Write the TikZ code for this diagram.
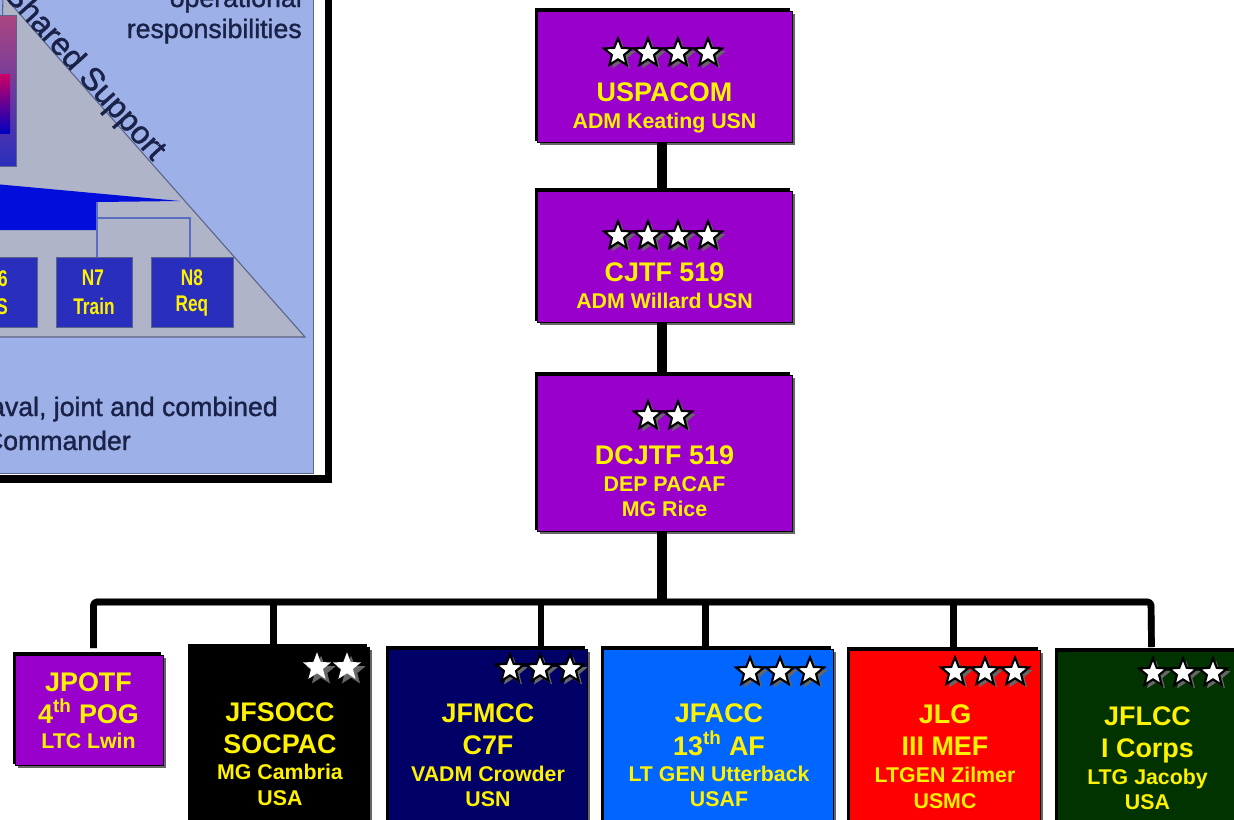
\documentclass[tikz,border=0pt]{standalone}
\usepackage{fontspec}
\setmainfont{Liberation Sans}
\newfontfamily\blurfont[FakeBold=1.3]{Liberation Sans}
\usetikzlibrary{shapes.geometric,fit,calc}
\definecolor{cmdpurple}{HTML}{9900CC}
\definecolor{cmdnavy}{HTML}{000066}
\definecolor{cmdblue}{HTML}{0066FF}
\definecolor{cmdgreen}{HTML}{003300}
\definecolor{panelblue}{HTML}{9DB0E8}
\definecolor{trigray}{HTML}{B0B4C8}
\definecolor{triline}{HTML}{5A6488}
\definecolor{paneltext}{HTML}{1A2248}
\definecolor{nbox}{HTML}{2A2EBC}
\definecolor{linkblue}{HTML}{5A6CC0}
\tikzset{
  boxnode/.style={inner sep=0pt,outer sep=0pt,draw=black,line width=0.5pt},
  titletext/.style={anchor=base,inner sep=0pt,text=yellow,font=\fontsize{20.2}{24}\selectfont\bfseries},
  subtext/.style={anchor=base,inner sep=0pt,text=yellow,font=\fontsize{16}{19}\selectfont\bfseries},
  starw/.style={star,star points=5,star point ratio=2.3,minimum size=22pt,inner sep=0pt,fill=white,draw=black,line width=1.6pt,miter limit=3},
  starsh/.style={star,star points=5,star point ratio=2.3,minimum size=23pt,inner sep=0pt,fill=black!60},
  starp/.style={star,star points=5,star point ratio=2.35,minimum size=22pt,inner sep=0pt,fill=white},
  connthick/.style={line width=7.5pt,black},
  connthicksh/.style={line width=7.5pt,black!60},
  connb/.style={line width=5pt,black,line join=round,rounded corners=2.5pt},
  connshadow/.style={line width=5pt,black!55,line join=round,rounded corners=2.5pt},
  paneltxt/.style={inner sep=0pt,text=paneltext,font=\fontsize{20}{24}\blurfont},
  ntxt/.style={anchor=center,inner sep=0pt,text=yellow,xscale=0.76,font=\fontsize{17}{20}\selectfont\bfseries},
}
% name, x0, y0, x1, y1, colour
\newcommand{\unitbox}[6]{%
  \fill[black!60] (#2+3,#3+3) rectangle (#4+3,#5+3);
  \fill[black] (#2-2,#3-3) rectangle (#4-2,#5-1);
  \path[fill=#6] (#2,#3) rectangle (#4,#5);
  \node[boxnode,fit={(#2,#3)(#4,#5)}] (#1) {};
}
% x-list, y, prefix
\newcommand{\starrow}[3]{%
  \foreach \sx in {#1} {\node[starsh] at (\sx+3,#2+3) {};}
  \foreach \sx in {#1} {\node[starw] (#3-\sx) at (\sx,#2) {};}
}
\begin{document}
\begin{tikzpicture}[x=0.75pt,y=-0.75pt]
\clip (0,0) rectangle (1234,819);
\fill[white] (0,0) rectangle (1234,819);

% ---------- left inset panel
\fill[black] (0,475) rectangle (332,483);
\fill[black] (324.5,0) rectangle (332,483);
\begin{scope}
\clip (0,0) rectangle (314,474);
\fill[panelblue] (0,0) rectangle (314,474);
\draw[triline,line width=1pt] (313.5,0) -- (313.5,473.5) -- (0,473.5);
\path[fill=trigray,draw=triline,line width=0.8pt] (3,-5) -- (305,337) -- (-5,337) -- cycle;
\path[top color=black!5!purple!60!panelblue,bottom color=nbox,draw=triline] (-5,15) rectangle (16,166);
\path[top color=purple!80!magenta,bottom color=blue!75!black] (-5,74) rectangle (10,133);
\fill[blue!85!black!95!cyan] (-5,184) -- (180,201) -- (97,202) -- (97,230) -- (-5,230) -- cycle;
\draw[linkblue,line width=0.9pt] (97,202) -- (97,257);
\draw[linkblue,line width=0.9pt] (97,218) -- (190,218) -- (190,257);
\path[fill=nbox,draw=triline] (-5,257) rectangle (37,327);
\path[fill=nbox,draw=triline] (56,257) rectangle (132,327);
\path[fill=nbox,draw=triline] (151,257) rectangle (233,327);
\node[ntxt,anchor=base east] (n6a) at (8,286) {N6};
\node[ntxt,anchor=base east] (n6b) at (8,314) {OS};
\node[ntxt] (n7a) at (93,278) {N7};
\node[ntxt] (n7b) at (94,306) {Train};
\node[ntxt] (n8a) at (192,278) {N8};
\node[ntxt] (n8b) at (192,306) {Req};
\node[paneltxt,anchor=base east] (opa) at (302,7) {operational};
\node[paneltxt,anchor=base east] (opb) at (302,38) {responsibilities};
\node[inner sep=0pt,text=paneltext,font=\fontsize{24}{28}\blurfont,anchor=base east,rotate=-48] (shared) at (153,162) {Shared Support};
\node[paneltxt,anchor=base east] (nav) at (278,416) {naval, joint and combined};
\node[paneltxt,anchor=base east] (com) at (131,450) {Commander};
\end{scope}

% ---------- upper chain
\unitbox{pacom}{537}{11}{792}{142}{cmdpurple}
\unitbox{cjtf}{537}{191}{792}{322}{cmdpurple}
\unitbox{dcjtf}{537}{375}{792}{531}{cmdpurple}

% ---------- lower row
\unitbox{jpotf}{15}{655}{163}{765}{cmdpurple}
\unitbox{jfsocc}{190}{647}{369}{825}{black}
\unitbox{jfmcc}{388}{649}{587}{825}{cmdnavy}
\unitbox{jfacc}{603}{649}{833}{825}{cmdblue}
\unitbox{jlg}{849}{650}{1040}{825}{red}
\unitbox{jflcc}{1057}{651}{1240}{825}{cmdgreen}

% ---------- connectors
\coordinate (bus) at (662,602);
\coordinate (busl) at (93.5,602);
\coordinate (busr) at (1151,602);
\coordinate (d1) at (93.5,648);
\coordinate (d2) at (273.5,649);
\coordinate (d3) at (541,648);
\coordinate (d4) at (705.5,648);
\coordinate (d5) at (953.5,649);
\coordinate (d6) at (1151.5,647);
\foreach \off/\sty in {2.5/connshadow,0/connb} {
  \begin{scope}[xshift=\off*0.75pt,yshift=-\off*0.75pt]
  \draw[\sty] (d1) -- (busl) -- (busr) -- (d6);
  \draw[\sty] (d2) -- (d2 |- bus);
  \draw[\sty] (d3) -- (d3 |- bus);
  \draw[\sty] (d4) -- (d4 |- bus);
  \draw[\sty] (d5) -- (d5 |- bus);
  \end{scope}
}
\foreach \off/\sty in {3/connthicksh,0/connthick} {
  \begin{scope}[xshift=\off*0.75pt]
  \draw[\sty] ($(pacom.south)+(-2.5,1)$) -- ($(cjtf.north)+(-2.5,-3)$);
  \draw[\sty] ($(cjtf.south)+(-2.5,1)$) -- ($(dcjtf.north)+(-2.5,-3)$);
  \draw[\sty] ($(dcjtf.south)+(-2.5,1)$) -- (bus);
  \end{scope}
}

% ---------- stars
\starrow{618,648,678,708}{53}{sa}
\starrow{618,648,678,708}{236}{sb}
\starrow{648,678}{416}{sc}
\foreach \sx in {317,347} {\node[starsh] at (\sx+4,667+4) {}; \node[starp] (sd-\sx) at (\sx,667) {};}
\starrow{510,540,570}{669}{se}
\starrow{750,780,810}{672}{sf}
\starrow{955,985,1015}{672}{sg}
\starrow{1153,1183,1213}{673}{sh}

% ---------- labels
\node[titletext] (t1a) at (664.5,101) {USPACOM};
\node[subtext] (t1b) at (664.5,128) {ADM Keating USN};
\node[titletext] (t2a) at (664.5,281) {CJTF 519};
\node[subtext] (t2b) at (664.5,308) {ADM Willard USN};
\node[titletext] (t3a) at (664.5,464) {DCJTF 519};
\node[subtext] (t3b) at (664.5,491) {DEP PACAF};
\node[subtext] (t3c) at (664.5,516) {MG Rice};
\node[titletext] (t4a) at (88.5,691) {JPOTF};
\node[titletext] (t4b) at (88.5,723) {4\textsuperscript{th} POG};
\node[subtext] (t4c) at (88.5,748) {LTC Lwin};
\node[titletext] (t5a) at (280,721) {JFSOCC};
\node[titletext] (t5b) at (280,753) {SOCPAC};
\node[subtext] (t5c) at (280,779) {MG Cambria};
\node[subtext] (t5d) at (280,805) {USA};
\node[titletext] (t6a) at (488,722) {JFMCC};
\node[titletext] (t6b) at (488,754) {C7F};
\node[subtext] (t6c) at (488,781) {VADM Crowder};
\node[subtext] (t6d) at (488,806) {USN};
\node[titletext] (t7a) at (719,722) {JFACC};
\node[titletext] (t7b) at (719,755) {13\textsuperscript{th} AF};
\node[subtext] (t7c) at (719,781) {LT GEN Utterback};
\node[subtext] (t7d) at (719,806) {USAF};
\node[titletext] (t8a) at (945,723) {JLG};
\node[titletext] (t8b) at (945,755) {III MEF};
\node[subtext] (t8c) at (945,782) {LTGEN Zilmer};
\node[subtext] (t8d) at (945,808) {USMC};
\node[titletext] (t9a) at (1147.5,725) {JFLCC};
\node[titletext] (t9b) at (1147.5,757) {I Corps};
\node[subtext] (t9c) at (1147.5,784) {LTG Jacoby};
\node[subtext] (t9d) at (1147.5,809) {USA};
\end{tikzpicture}
\end{document}
